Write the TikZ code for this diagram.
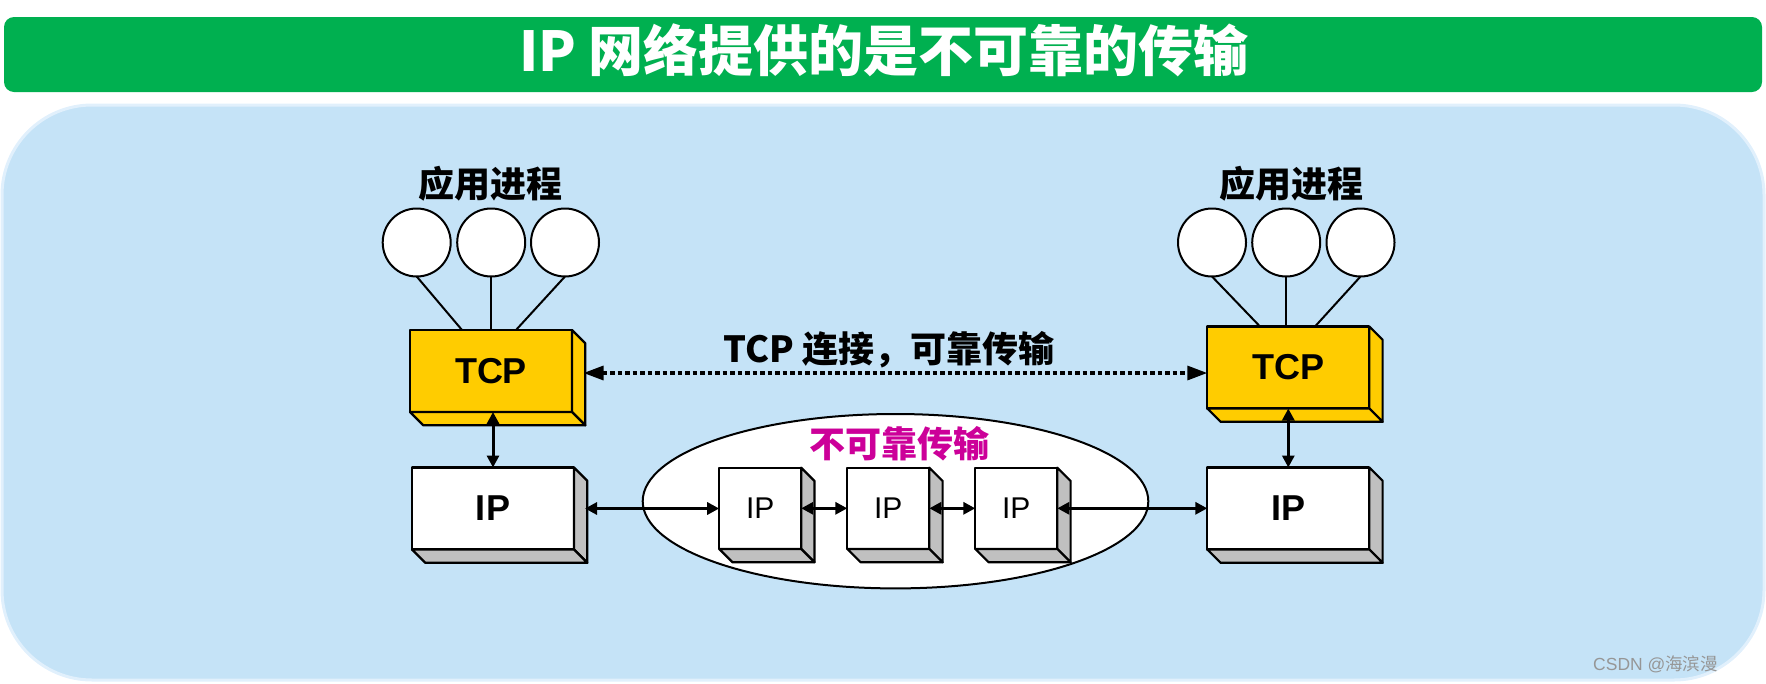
\documentclass[tikz,border=0pt]{standalone}
\usepackage{fontspec}
\setmainfont{Liberation Sans}
\newfontfamily\cjk{Noto Sans CJK SC}
\usetikzlibrary{arrows.meta,calc,shapes.geometric}
\definecolor{bargreen}{RGB}{0,176,80}
\definecolor{panelblue}{RGB}{197,227,247}
\definecolor{panelrim}{RGB}{225,240,252}
\definecolor{gold}{RGB}{255,204,0}
\definecolor{sidegray}{RGB}{192,192,192}
\definecolor{magen}{RGB}{204,0,153}
\definecolor{wmgray}{RGB}{150,150,150}
\newcommand\dep{13.3}
\newcommand\boxfaces[2]{%
  \filldraw[face,fill=#2] (#1.north east) -- ++(\dep,\dep) -- ($(#1.south east)+(\dep,\dep)$) -- (#1.south east) -- cycle;
  \filldraw[face,fill=#2] (#1.south west) -- ++(\dep,\dep) -- ($(#1.south east)+(\dep,\dep)$) -- (#1.south east) -- cycle;}
\begin{document}
\begin{tikzpicture}[x=1pt,y=-1pt,
  face/.style={draw=black,line width=2.2pt,line join=round},
  front/.style={face,rectangle,inner sep=0pt,outer sep=0pt},
  bigbox/.style={front,minimum width=162pt,minimum height=82pt},
  smallbox/.style={front,fill=white,minimum width=82pt,minimum height=81.3pt,
    font=\fontsize{30}{30}\selectfont},
  boxlabel/.style={font=\bfseries\fontsize{36}{36}\selectfont},
  proc/.style={circle,draw=black,line width=2pt,fill=white,minimum size=68pt,inner sep=0pt,outer sep=0pt},
  link/.style={draw=black,line width=2pt},
  arr/.style={draw=black,line width=3pt,{Triangle[length=12pt,width=12pt]}-{Triangle[length=12pt,width=12pt]}},
  dotarr/.style={draw=black,line width=3.2pt,dash pattern=on 4.5pt off 3pt,
    {Triangle[length=20pt,width=14pt]}-{Triangle[length=20pt,width=14pt]}},
  cjklabel/.style={anchor=base,font={\cjk\bfseries\fontsize{36}{40}\selectfont}}]
\useasboundingbox (0,0) rectangle (1766,683);
% title bar
\fill[bargreen,rounded corners=10pt] (4,17) rectangle (1762,92);
\node[anchor=base,text=white,font={\cjk\bfseries\fontsize{55}{60}\selectfont}] (title) at (884,71) {IP 网络提供的是不可靠的传输};
% panel
\draw[rounded corners=90pt,fill=panelblue,draw=panelrim,line width=3pt] (2,105) rectangle (1764,680);
\node[anchor=base west,inner sep=0pt,text=wmgray] (wm) at (1593,670.7)
  {\fontsize{17.5}{20}\selectfont CSDN @\cjk 海滨漫};
% ellipse
\node[ellipse,draw=black,line width=2pt,fill=white,minimum width=505.6pt,minimum height=174.4pt,inner sep=0pt] (cloud) at (895.5,501.2) {};
\node[cjklabel,text=magen] (unrel) at (899.7,457.5) {不可靠传输};
% left stack
\node[cjklabel] (appL) at (490,197) {应用进程};
\node[proc] (l1) at (416.7,242.5) {};
\node[proc] (l2) at (491.2,242.5) {};
\node[proc] (l3) at (565,242.5) {};
\node[bigbox,fill=gold,boxlabel] (tcpL) at (491,371) {TCP};
\boxfaces{tcpL}{gold}
\node[bigbox,fill=white,boxlabel] (ipL) at (493,508.5) {IP};
\boxfaces{ipL}{sidegray}
\draw[link] (l1.south) -- ($(tcpL.north)+(-29,0)$);
\draw[link] (l2.south) -- (l2.south |- tcpL.north);
\draw[link] (l3.south) -- ($(tcpL.north)+(25,0)$);
% right stack
\node[cjklabel] (appR) at (1291,197) {应用进程};
\node[proc] (r1) at (1212,242.5) {};
\node[proc] (r2) at (1286.2,242.5) {};
\node[proc] (r3) at (1360.5,242.5) {};
\node[bigbox,fill=gold,boxlabel] (tcpR) at (1288.3,367.5) {TCP};
\boxfaces{tcpR}{gold}
\node[bigbox,fill=white,boxlabel] (ipR) at (1288.3,508.5) {IP};
\boxfaces{ipR}{sidegray}
\draw[link] (r1.south) -- ($(tcpR.north)+(-28.3,0)$);
\draw[link] (r2.south) -- (r2.south |- tcpR.north);
\draw[link] (r3.south) -- ($(tcpR.north)+(26.7,0)$);
% routers
\node[smallbox] (s1) at (760.2,508.3) {IP};
\boxfaces{s1}{sidegray}
\node[smallbox] (s2) at (888.3,508.3) {IP};
\boxfaces{s2}{sidegray}
\node[smallbox] (s3) at (1016.3,508.3) {IP};
\boxfaces{s3}{sidegray}
% connectors
\coordinate (ipLout) at ($(ipL.east)+(11,0)$);
\draw[arr] (ipLout) -- (ipLout -| s1.west);
\draw[arr] (s1.east) -- (s2.west);
\draw[arr] (s2.east) -- (s3.west);
\draw[arr] (s3.east) -- (s3.east -| ipR.west);
\draw[arr] (ipL.north |- tcpL.south) -- (ipL.north);
\draw[arr] (ipR.north |- tcpR.south) -- (ipR.north);
\coordinate (tcpLout) at ($(tcpL.east)+(11.5,2)$);
\draw[dotarr] (tcpLout) -- (tcpLout -| tcpR.west);
\node[cjklabel] (conn) at (889,362) {TCP 连接，可靠传输};
\end{tikzpicture}
\end{document}
